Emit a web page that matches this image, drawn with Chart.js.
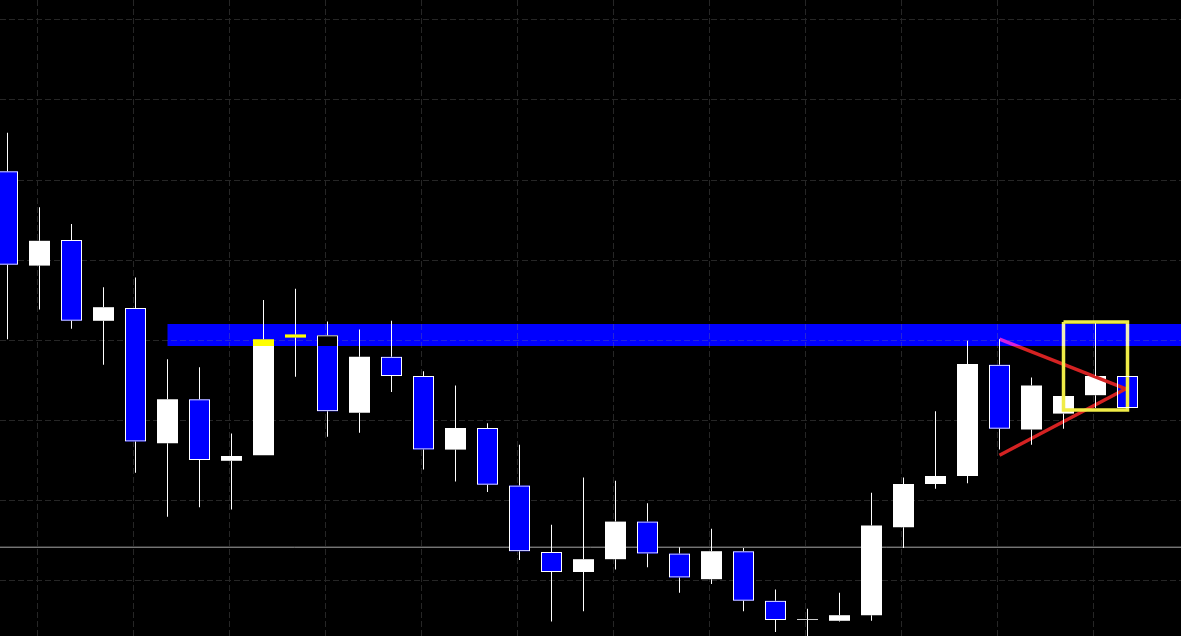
<!DOCTYPE html>
<html>
<head>
<meta charset="utf-8">
<title>Grafico candele</title>
<script src="https://cdn.jsdelivr.net/npm/chart.js@4.4.0/dist/chart.umd.min.js"></script>
<style>
    html, body { margin: 0; padding: 0; background: #000; overflow: hidden; }
    #contenitore { width: 1181px; height: 636px; }
</style>
</head>
<body>
<div id="contenitore"><canvas id="myChart"></canvas></div>
<script>
// Dati delle candele (indice, apertura, massimo, minimo, chiusura);
const candele   = [0, 1, 2, 3, 4, 5, 6, 7, 8, 9, 10, 11, 12, 13, 14, 15, 16, 17, 18, 19, 20, 21, 22, 23, 24, 25, 26, 27, 28, 29, 30, 31, 32, 33, 34, 35];
const aperture  = [151.1, 139.3, 142.5, 132.4, 134.0, 117.1, 122.6, 114.9, 115.6, 130.3, 130.6, 120.9, 127.9, 125.5, 116.3, 119.0, 111.8, 103.5, 101.0, 102.6, 107.3, 103.3, 100.1, 103.6, 97.4, 95.0, 94.9, 95.6, 106.6, 112.0, 113.0, 126.9, 118.8, 120.8, 123.1, 125.5];
const massimi   = [155.9, 146.6, 144.5, 136.6, 137.8, 127.6, 126.6, 118.3, 135.0, 136.4, 132.3, 131.3, 132.4, 126.1, 124.3, 119.6, 116.9, 106.9, 112.8, 112.4, 109.6, 104.1, 106.4, 104.0, 98.8, 96.4, 98.4, 110.9, 112.8, 121.1, 129.9, 130.1, 125.3, 123.0, 132.1, 125.5];
const minimi    = [130.1, 133.8, 131.4, 126.9, 113.4, 107.9, 109.1, 108.8, 115.6, 125.4, 117.9, 118.4, 123.5, 113.8, 112.3, 111.0, 102.5, 94.8, 96.1, 101.3, 101.6, 98.4, 99.5, 96.1, 93.5, 92.0, 94.8, 94.9, 104.0, 111.4, 112.1, 116.3, 116.9, 118.9, 121.5, 121.5];
const chiusure  = [139.4, 142.4, 132.4, 134.1, 117.3, 122.6, 115.0, 115.5, 130.1, 130.7, 121.1, 127.9, 125.5, 116.3, 119.0, 111.9, 103.6, 101.0, 102.6, 107.3, 103.3, 100.3, 103.6, 97.4, 95.0, 95.1, 95.6, 106.8, 112.0, 113.0, 127.0, 118.9, 124.3, 123.0, 125.5, 121.5];

// Griglia, livelli e disegni;
const colonneGriglia = [0.95, 3.95, 6.95, 9.95, 12.95, 15.95, 18.95, 21.95, 24.95, 27.95, 30.95, 33.95];
const righeGriglia = [100, 110, 120, 130, 140, 150, 160, 170];
const livelloGrigio = 104.1;
const fascia = [129.25, 132.0];
const inizioFascia = 5;
const trendAlto = [[31, 130.1], [34.95, 123.9]];
const trendBasso = [[31, 115.6], [34.95, 123.9]];
const riquadro = [[33, 132.25], [35, 132.25], [35, 121.25], [33, 121.25], [33, 132.25]];

const xMin = -0.234375;
const xMax = 36.671875;
const yMin = 93;
const yMax = 172.5;

const BLU = '#0000ff';
const BIANCO = '#ffffff';

let corpi = candele.map(i => ({ x: i, y: [aperture[i], chiusure[i]] }));
let ombreSopra = candele.map(i => ({ x: i, y: [Math.max(aperture[i], chiusure[i]), massimi[i]] }));
let ombreSotto = candele.map(i => ({ x: i, y: [minimi[i], Math.min(aperture[i], chiusure[i])] }));
let coloriCorpi = candele.map(i => chiusure[i] >= aperture[i] ? BIANCO : BLU);
let bordiCorpi = candele.map(i => chiusure[i] >= aperture[i] ? 'rgba(0,0,0,0)' : BIANCO);

function punti(lista) {
    return lista.map(p => ({ x: p[0], y: p[1] }));
}

// Sfondo nero;
const sfondo = {
    id: 'sfondo',
    beforeDraw(chart) {
        const ctx = chart.ctx;
        ctx.save();
        ctx.fillStyle = '#000000';
        ctx.fillRect(0, 0, chart.width, chart.height);
        ctx.restore();
    }
};

// Fascia blu disegnata in "difference" (effetto XOR come in MT4);
const fasciaBlu = {
    id: 'fasciaBlu',
    afterDatasetDraw(chart, args) {
        if (chart.data.datasets[args.index].label !== 'Riquadro') return;
        const ctx = chart.ctx;
        const area = chart.chartArea;
        const x0 = chart.scales.x.getPixelForValue(inizioFascia);
        const yTop = chart.scales.y.getPixelForValue(fascia[1]);
        const yBot = chart.scales.y.getPixelForValue(fascia[0]);
        ctx.save();
        ctx.globalCompositeOperation = 'difference';
        ctx.fillStyle = BLU;
        ctx.fillRect(x0, yTop, area.right - x0, yBot - yTop);
        ctx.restore();
    }
};

const ctx = document.getElementById('myChart');
const myChart = new Chart(ctx, {
    type: 'bar',
    data: {
        datasets: [
            {
                type: 'line',
                label: 'Livello',
                data: punti([[xMin - 1, livelloGrigio], [xMax + 1, livelloGrigio]]),
                borderColor: '#a8a8a8',
                borderWidth: 1,
                pointRadius: 0,
                order: 10
            },
            {
                label: 'Corpi',
                data: corpi,
                backgroundColor: coloriCorpi,
                borderWidth: 0,
                barThickness: 21,
                grouped: false,
                order: 9
            },
            {
                type: 'line',
                label: 'Trend alto',
                data: punti(trendAlto),
                borderColor: '#d42222',
                borderWidth: 3.5,
                pointRadius: 0,
                order: 8
            },
            {
                type: 'line',
                label: 'Trend basso',
                data: punti(trendBasso),
                borderColor: '#d42222',
                borderWidth: 3.5,
                pointRadius: 0,
                order: 8
            },
            {
                type: 'line',
                label: 'Riquadro',
                data: punti(riquadro),
                borderColor: '#f0ec46',
                borderWidth: 3.5,
                pointRadius: 0,
                order: 7
            },
            {
                label: 'Bordi',
                data: corpi,
                backgroundColor: 'rgba(0,0,0,0)',
                borderColor: bordiCorpi,
                borderWidth: 1,
                borderSkipped: false,
                barThickness: 21,
                grouped: false,
                order: 5
            },
            {
                label: 'Ombre sopra',
                data: ombreSopra,
                backgroundColor: BIANCO,
                borderWidth: 0,
                barThickness: 1,
                grouped: false,
                order: 4
            },
            {
                label: 'Ombre sotto',
                data: ombreSotto,
                backgroundColor: BIANCO,
                borderWidth: 0,
                barThickness: 1,
                grouped: false,
                order: 4
            }
        ]
    },
    options: {
        responsive: true,
        maintainAspectRatio: false,
        animation: false,
        layout: { padding: 0 },
        plugins: {
            legend: { display: false },
            tooltip: { enabled: false }
        },
        elements: {
            line: { tension: 0 },
            bar: { inflateAmount: 0 }
        },
        scales: {
            x: {
                type: 'linear',
                min: xMin,
                max: xMax,
                offset: false,
                afterBuildTicks: scale => {
                    scale.ticks = colonneGriglia.map(v => ({ value: v }));
                },
                ticks: { display: false },
                grid: { color: '#262626', lineWidth: 1, drawTicks: false, offset: false },
                border: { display: false, dash: [6, 3] }
            },
            y: {
                type: 'linear',
                min: yMin,
                max: yMax,
                beginAtZero: false,
                afterBuildTicks: scale => {
                    scale.ticks = righeGriglia.map(v => ({ value: v }));
                },
                ticks: { display: false },
                grid: { color: '#262626', lineWidth: 1, drawTicks: false },
                border: { display: false, dash: [6, 3] }
            }
        }
    },
    plugins: [sfondo, fasciaBlu]
});
</script>
</body>
</html>
